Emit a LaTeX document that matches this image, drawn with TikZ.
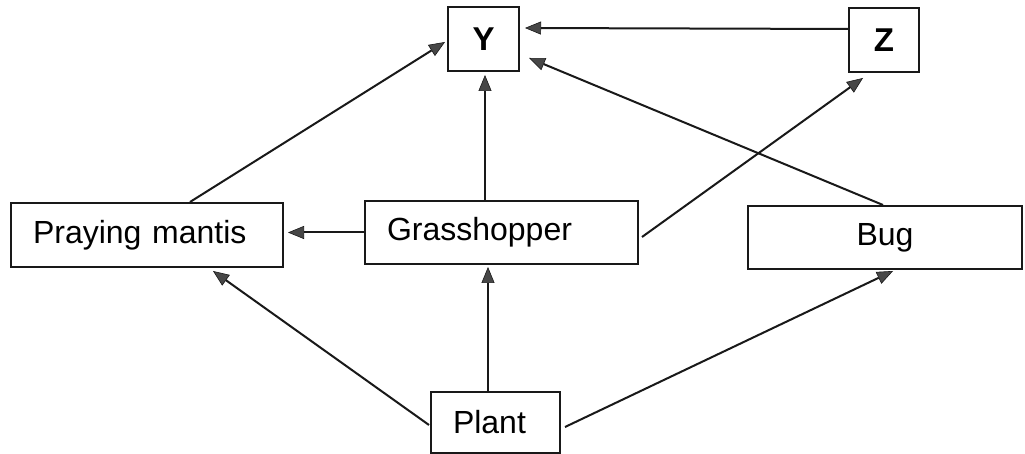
\documentclass[tikz,border=0pt]{standalone}
\usepackage{fontspec}
\setmainfont{Liberation Sans}
\usetikzlibrary{arrows.meta}
\begin{document}
\begin{tikzpicture}[x=1pt,y=1pt,
  box/.style={draw=black!90,line width=2pt,inner sep=0pt,font=\fontsize{32}{36}\selectfont},
  lbox/.style={box,align=left,inner xsep=22pt,text width=#1},
  letter/.style={box,font=\fontsize{33}{36}\selectfont\bfseries,minimum width=71pt,minimum height=64pt},
  arr/.style={line width=2pt,draw=black!90,-{Triangle[length=16pt,width=13pt,fill=black!72,line width=0.6pt]}}]
\fill[white] (0,0) rectangle (1025,454);
\useasboundingbox (0,0) rectangle (1025,454);
\node[letter] (Y) at (483.5,415) {Y};
\node[letter,minimum width=70pt] (Z) at (884,414) {Z};
\node[lbox=228pt,minimum height=64pt] (M) at (147,219) {Praying mantis};
\node[lbox=229pt,minimum height=63pt] (G) at (501.5,221.5) {Grasshopper};
\node[box,minimum width=274pt,minimum height=63pt] (B) at (885,216.5) {Bug};
\node[lbox=85pt,minimum height=61pt] (P) at (495.5,31.5) {Plant};
\draw[arr] ([yshift=11pt]Z.west) -- ([xshift=5pt,yshift=11pt]Y.east);
\draw[arr] ([xshift=43pt]M.north) -- ([xshift=-2pt,yshift=-3pt]Y.west);
\draw[arr] ([xshift=-16.5pt]G.north) -- ([xshift=-16.5pt,yshift=-3pt]G.north |- Y.south);
\draw[arr] ([xshift=3pt,yshift=-4.5pt]G.east) -- ([xshift=-21pt,yshift=-5pt]Z.south);
\draw[arr] ([xshift=-2pt]B.north) -- ([xshift=9pt,yshift=14pt]Y.south east);
\draw[arr] (G.west) -- ([xshift=4pt]M.east |- G.west);
\draw[arr] ([xshift=-1pt,yshift=-2.5pt]P.west) -- ([xshift=66pt,yshift=-3pt]M.south);
\draw[arr] ([xshift=-7.5pt]P.north) -- ([xshift=-7.5pt,yshift=-2pt]P.north |- G.south);
\draw[arr] ([xshift=4pt,yshift=-4.5pt]P.east) -- ([xshift=8pt,yshift=-1pt]B.south);
\end{tikzpicture}
\end{document}
